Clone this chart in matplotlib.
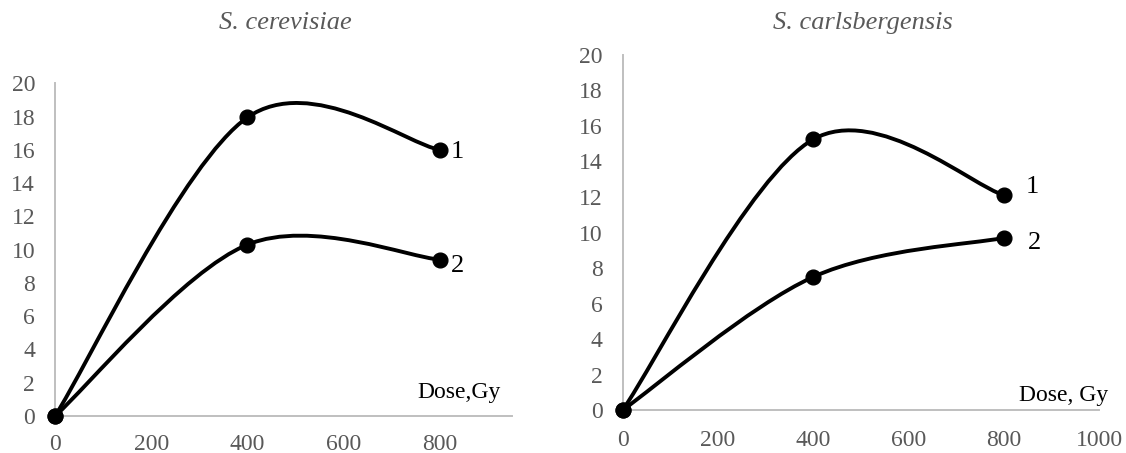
import numpy as np
import matplotlib.pyplot as plt
from matplotlib.path import Path
from matplotlib.patches import PathPatch

plt.rcParams['font.family'] = ['Liberation Serif', 'DejaVu Serif']

# > Data
dose = [0, 400, 800]
cerevisiae_1 = [0, 17.95, 16.0]
cerevisiae_2 = [0, 10.3, 9.4]
carlsberg_1 = [0, 15.25, 12.1]
carlsberg_2 = [0, 7.5, 9.7]
titles = ['S. cerevisiae', 'S. carlsbergensis']
dose_labels = ['Dose,Gy', 'Dose, Gy']
y_ticks = list(range(0, 21, 2))

grey = '#595959'
spine_grey = '#bfbfbf'


def smooth_path(xs, ys):
    # Excel-like smoothed line: Catmull-Rom segments as cubic Beziers
    pts = np.column_stack([xs, ys]).astype(float)
    n = len(pts)
    verts = [pts[0]]
    codes = [Path.MOVETO]
    for i in range(n - 1):
        p0 = pts[max(i - 1, 0)]
        p1 = pts[i]
        p2 = pts[i + 1]
        p3 = pts[min(i + 2, n - 1)]
        verts += [p1 + (p2 - p0) / 6, p2 - (p3 - p1) / 6, p2]
        codes += [Path.CURVE4] * 3
    return Path(verts, codes)


fig = plt.figure(figsize=(11.26, 4.53), dpi=100)
ax1 = fig.add_axes([0.0489, 0.0817, 0.4058, 0.7344])
ax2 = fig.add_axes([0.5530, 0.0949, 0.4233, 0.7837])

panels = [
    (ax1, [cerevisiae_1, cerevisiae_2], 950, [0, 200, 400, 600, 800],
     [(836, 15.9), (837, 9.0)], (839, 0.8), 13.0),
    (ax2, [carlsberg_1, carlsberg_2], 1000, [0, 200, 400, 600, 800, 1000],
     [(860, 12.55), (865, 9.43)], (926, 0.23), 14.4),
]

for k, (ax, series, xmax, xt, lab_pos, dose_pos, xpad) in enumerate(panels):
    for j, ys in enumerate(series):
        ax.add_patch(PathPatch(smooth_path(dose, ys), facecolor='none',
                               edgecolor='black', lw=2.8, zorder=3))
        ax.plot(dose, ys, 'o', color='black', ms=10.6, zorder=4, clip_on=False)
        ax.text(lab_pos[j][0], lab_pos[j][1], str(j + 1), fontsize=19,
                color='black', ha='center', va='center')
    ax.text(dose_pos[0], dose_pos[1], dose_labels[k], fontsize=17,
            color='black', ha='center', va='bottom')

    ax.set_xlim(0, xmax)
    ax.set_ylim(0, 20)
    ax.set_xticks(xt)
    ax.set_yticks(y_ticks)
    for s in ['top', 'right']:
        ax.spines[s].set_visible(False)
    for s in ['left', 'bottom']:
        ax.spines[s].set_color(spine_grey)
        ax.spines[s].set_linewidth(1.4)
    ax.tick_params(axis='both', length=0, labelsize=17, labelcolor=grey)
    ax.tick_params(axis='x', pad=xpad)
    ax.tick_params(axis='y', pad=14.4)

fig.text(0.2531, 0.949, titles[0], fontsize=19, style='italic', color=grey,
         ha='center', va='center')
fig.text(0.766, 0.949, titles[1], fontsize=19, style='italic', color=grey,
         ha='center', va='center')

plt.savefig('out.png', dpi=100)
